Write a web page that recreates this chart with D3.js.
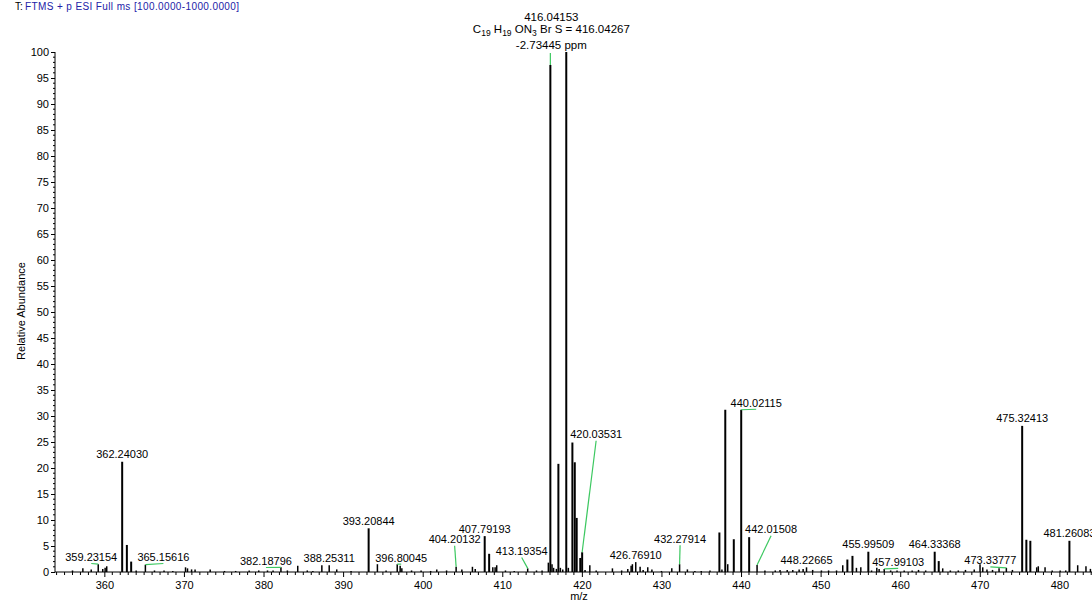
<!DOCTYPE html>
<html><head><meta charset="utf-8">
<script src="https://cdn.jsdelivr.net/npm/d3@7"></script>
<style>
body{margin:0;background:#fff}
svg{display:block}
text{font-family:"Liberation Sans",Arial,sans-serif;fill:#000}
</style>
</head><body>
<svg id="chart" width="1092" height="605"></svg>
<script>
// ---------- data ----------
const peakMz = [356.0,357.3,358.35,359.23154,359.8,360.1,360.3,362.24030,362.83,363.37,364.0,365.15616,366.3,367.5,368.6,
370.2,370.45,370.96,371.4,373.3,375.1,376.5,378.2,379.4,380.5,381.2,382.18796,383.0,384.3,385.5,386.2,387.33,388.25311,389.2,391.0,
393.20844,394.31,395.4,396.80045,397.17,397.38,398.6,399.8,401.0,401.77,403.0,404.20132,404.92,406.25,406.6,407.79193,408.35,408.81,409.1,409.3,
410.4,411.5,413.19354,414.3,415.0,415.79,416.04153,416.25,416.45,416.8,417.05,417.3,417.6,418.04,418.3,418.81,419.11,419.35,419.8,420.03531,
420.4,421.0,421.8,423.84,425.0,425.77,426.19,426.35,426.76910,427.32,427.7,428.28,428.8,430.0,431.3,432.27914,433.26,434.2,435.0,436.1,
437.28,437.6,438.02,438.33,439.09,440.02115,441.02,442.01508,443.0,444.3,444.9,445.8,446.5,447.3,447.8,448.22665,449.0,450.1,451.0,452.0,
452.78,453.36,454.0,454.5,455.05,455.99509,456.4,457.06,457.35,457.99103,458.8,459.6,460.5,461.5,462.3,463.2,464.33368,464.84,465.34,466.3,
467.3,468.2,469.3,470.03,470.37,470.9,471.6,472.42,473.33777,474.1,475.32413,475.85,476.35,477.15,477.35,478.2,479.1,480.1,480.8,481.26083,
482.3,483.34,483.9];
const peakAbundance = [0.3,0.7,0.5,1.5,0.6,0.8,1.1,21.2,5.2,2.0,0.3,1.4,0.3,0.3,0.2,
0.9,0.7,0.5,0.5,0.5,0.2,0.2,0.3,0.3,0.3,0.3,0.9,0.3,1.2,0.3,0.2,1.3,1.3,0.5,0.2,
8.4,1.5,0.3,1.5,1.2,0.7,0.3,0.3,0.2,0.5,0.3,1.0,0.5,1.0,0.6,6.9,3.5,0.9,0.9,1.3,
0.3,0.2,0.7,0.3,0.3,1.8,97.5,1.5,0.8,0.6,20.8,0.8,0.5,100,0.8,24.9,21.1,10.4,2.7,3.8,
0.4,1.3,0.3,0.7,0.3,0.6,1.2,1.5,1.9,1.0,0.4,0.9,0.5,0.2,0.7,1.5,0.5,0.2,0.2,0.3,
7.6,0.5,31.2,1.5,6.3,31.2,6.7,1.35,0.3,0.3,0.4,0.4,0.4,0.5,0.6,0.9,0.4,0.3,0.3,0.3,
1.3,2.4,3.1,0.8,0.9,3.9,0.3,0.8,0.6,0.6,0.3,0.3,0.3,0.3,0.4,0.3,3.9,2.1,0.7,0.3,
0.3,0.4,0.5,1.5,0.9,0.5,0.4,0.7,0.8,0.4,28.1,6.2,6.0,0.9,1.1,0.9,0.3,0.3,0.3,6.0,
1.3,1.1,0.6];

const labelTexts = ["359.23154","362.24030","365.15616","382.18796","388.25311","393.20844","396.80045","404.20132",
"407.79193","413.19354","416.04153","420.03531","426.76910","432.27914","440.02115","442.01508","448.22665",
"455.99509","457.99103","464.33368","473.33777","475.32413","481.26083"];

const topFormula = {mass:"416.04153", elements:[["C","19"],["H","19"],["ON","3"],["Br",""],["S",""]], theo:"416.04267", ppm:"-2.73445 ppm"};

const xTicks = [360,370,380,390,400,410,420,430,440,450,460,470,480];
const yTicks = [0,5,10,15,20,25,30,35,40,45,50,55,60,65,70,75,80,85,90,95,100];
const headerPrefix = "T:";
const headerText = "FTMS + p ESI Full ms [100.0000-1000.0000]";
const xTitle = "m/z";
const yTitle = "Relative Abundance";

// ---------- layout (pixel offsets of labels that use a leader line) ----------
const labelOffsets = {
  "359.23154":[-7,-3.2], "365.15616":[18,-3.7], "382.18796":[-15,-2.3], "396.80045":[4,-2.6],
  "404.20132":[-1.5,-23.5], "413.19354":[-6,-13.4], "420.03531":[14,-114], "432.27914":[0.5,-21.5],
  "440.02115":[15,-3], "442.01508":[14,-31.7], "457.99103":[14,-3], "473.33777":[-16,-3.5]
};

// ---------- drawing ----------
const svg = d3.select("#chart");
const x = d3.scaleLinear().domain([353.8, 484.4]).range([55, 1094.4]);
const y = d3.scaleLinear().domain([0, 100]).range([572, 52]);
const GREEN = "#3cc860";

// header
svg.append("text").attr("x", 15).attr("y", 9.5).style("font-size", "10px").text(headerPrefix);
svg.append("text").attr("x", 25).attr("y", 9.5).style("font-size", "10px")
  .attr("textLength", 214).attr("lengthAdjust", "spacing")
  .style("fill", "#2222a8").text(headerText);

// peaks
svg.append("g").selectAll("line").data(peakMz.map((m, i) => ({m, a: peakAbundance[i]})))
  .join("line")
  .attr("x1", d => x(d.m)).attr("x2", d => x(d.m))
  .attr("y1", y(0)).attr("y2", d => y(d.a))
  .attr("stroke", "#000").attr("stroke-width", d => d.a >= 2 ? 2 : 1.5);

// axes
const yAxis = d3.axisLeft(y).tickValues(yTicks).tickSize(4).tickPadding(2).tickFormat(d3.format("d"));
const yg = svg.append("g").attr("transform", "translate(55,0)").call(yAxis);
yg.select(".domain").attr("d", `M0,${y(0)}V${y(100)}`);
const yMinor = d3.range(0, 101, 1).filter(v => v % 5 !== 0);
svg.append("g").selectAll("line").data(yMinor).join("line")
  .attr("x1", 53).attr("x2", 55).attr("y1", d => y(d)).attr("y2", d => y(d)).attr("stroke", "#000");

const xAxis = d3.axisBottom(x).tickValues(xTicks).tickSize(5).tickPadding(4).tickFormat(d3.format("d"));
const xg = svg.append("g").attr("transform", `translate(0,${y(0)})`).call(xAxis);
xg.select(".domain").attr("d", `M55,0H1092`);
const xMinor = d3.range(354, 485, 1).filter(v => v % 10 !== 0);
svg.append("g").selectAll("line").data(xMinor).join("line")
  .attr("x1", d => x(d)).attr("x2", d => x(d)).attr("y1", y(0)).attr("y2", y(0) + 3).attr("stroke", "#000");

[yg, xg].forEach(g => {
  g.selectAll("text").style("font-size", "11px").style("font-family", '"Liberation Sans",Arial,sans-serif').attr("fill", "#000");
  g.selectAll("line").attr("stroke", "#000");
  g.select(".domain").attr("stroke", "#000");
});
yg.selectAll(".tick text").attr("dy", "0.36em");

// titles
svg.append("text").attr("x", 579).attr("y", 600).attr("text-anchor", "middle").style("font-size", "11px").text(xTitle);
svg.append("text").attr("transform", "translate(25,311) rotate(-90)").attr("text-anchor", "middle").style("font-size", "11px").text(yTitle);

// peak labels
const lblG = svg.append("g");
labelTexts.forEach(t => {
  const m = +t;
  const i = peakMz.indexOf(m);
  const px = x(m), py = y(peakAbundance[i]);
  if (t === topFormula.mass) return;
  const off = labelOffsets[t];
  const lx = px + (off ? off[0] : 0);
  const ly = py + (off ? off[1] : -3.5);
  if (off) {
    lblG.append("line").attr("x1", lx).attr("y1", ly + 2.5).attr("x2", px).attr("y2", py)
      .attr("stroke", GREEN).attr("stroke-width", 1.2);
  }
  lblG.append("text").attr("x", lx).attr("y", ly).attr("text-anchor", "middle").style("font-size", "11px").text(t);
});

// top formula block
{
  const m = +topFormula.mass;
  const px = x(m), py = y(peakAbundance[peakMz.indexOf(m)]);
  const cx = px + 1;
  lblG.append("line").attr("x1", px).attr("x2", px).attr("y1", 53).attr("y2", py).attr("stroke", GREEN).attr("stroke-width", 1.2);
  lblG.append("text").attr("x", cx).attr("y", 20.7).attr("text-anchor", "middle").style("font-size", "11.5px").text(topFormula.mass);
  const f = lblG.append("text").attr("x", cx).attr("y", 33.3).attr("text-anchor", "middle").style("font-size", "11.5px");
  topFormula.elements.forEach(([el, n], k) => {
    f.append("tspan").attr("dy", k === 0 ? 0 : (topFormula.elements[k-1][1] ? -3 : 0)).text(el);
    if (n) f.append("tspan").attr("dy", 3).style("font-size", "8.5px").text(n);
    f.append("tspan").text(" ");
  });
  const last = topFormula.elements[topFormula.elements.length-1][1];
  f.append("tspan").attr("dy", last ? -3 : 0).text("= " + topFormula.theo);
  lblG.append("text").attr("x", cx).attr("y", 48.5).attr("text-anchor", "middle").style("font-size", "11.5px").text(topFormula.ppm);
}
</script>
</body></html>
